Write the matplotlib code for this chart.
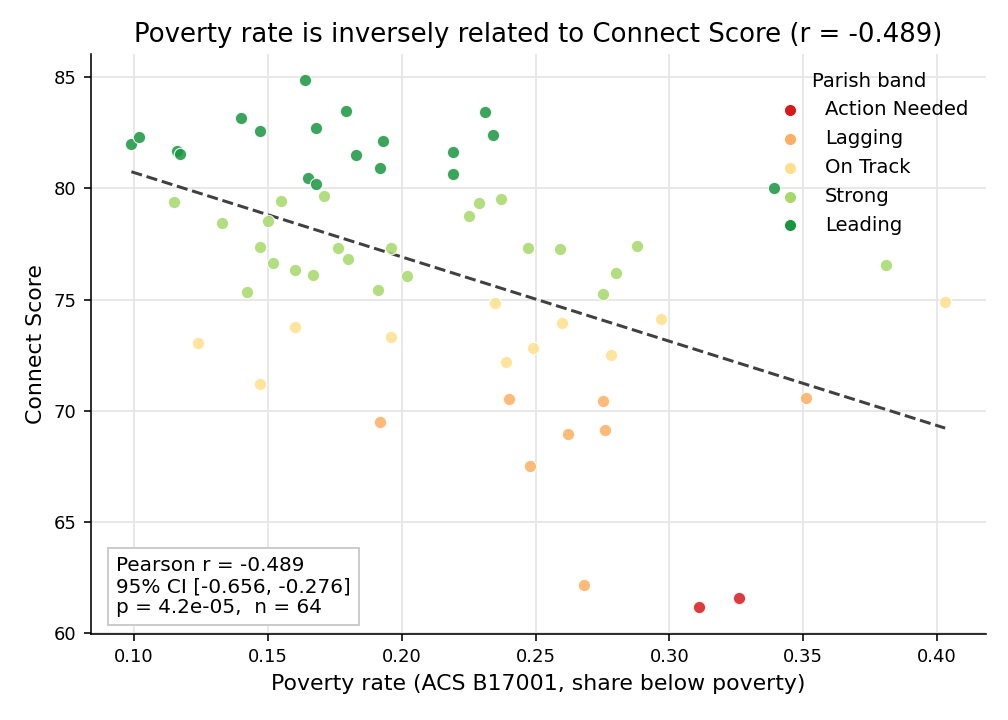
import matplotlib
matplotlib.use('Agg')
import matplotlib.pyplot as plt
import numpy as np

# Poverty rate / Connect Score per parish, grouped by band
leading_x = [0.099, 0.102, 0.116, 0.117, 0.140, 0.147, 0.164, 0.179, 0.168, 0.193,
             0.183, 0.192, 0.165, 0.168, 0.219, 0.219, 0.231, 0.234, 0.339]
leading_y = [82.0, 82.3, 81.68, 81.53, 83.15, 82.58, 84.85, 83.49, 82.70, 82.14,
             81.48, 80.89, 80.44, 80.21, 81.61, 80.66, 83.43, 82.38, 80.02]

strong_x = [0.115, 0.133, 0.150, 0.155, 0.171, 0.147, 0.152, 0.160, 0.167, 0.176,
            0.180, 0.142, 0.191, 0.196, 0.202, 0.225, 0.229, 0.237, 0.247, 0.259,
            0.288, 0.280, 0.275, 0.381]
strong_y = [79.37, 78.44, 78.55, 79.42, 79.64, 77.38, 76.62, 76.31, 76.11, 77.32,
            76.81, 75.32, 75.45, 77.31, 76.04, 78.76, 79.32, 79.52, 77.33, 77.29,
            77.41, 76.19, 75.24, 76.53]

ontrack_x = [0.124, 0.160, 0.147, 0.196, 0.235, 0.260, 0.249, 0.239, 0.278, 0.297, 0.403]
ontrack_y = [73.03, 73.77, 71.21, 73.31, 74.85, 73.95, 72.83, 72.18, 72.49, 74.11, 74.87]

lagging_x = [0.192, 0.240, 0.275, 0.262, 0.276, 0.248, 0.351, 0.268]
lagging_y = [69.49, 70.51, 70.45, 68.94, 69.15, 67.50, 70.56, 62.17]

action_x = [0.311, 0.326]
action_y = [61.17, 61.59]

bands = ['Action Needed', 'Lagging', 'On Track', 'Strong', 'Leading']
band_colors = ['#d7191c', '#fdae61', '#fee08b', '#a6d96a', '#1a9641']

stats_r = -0.489
stats_ci = (-0.656, -0.276)
stats_p = '4.2e-05'
stats_n = 64

xs = [action_x, lagging_x, ontrack_x, strong_x, leading_x]
ys = [action_y, lagging_y, ontrack_y, strong_y, leading_y]

fig, ax = plt.subplots(figsize=(7, 5), dpi=144)
fig.subplots_adjust(left=0.090, right=0.978, bottom=0.12, top=0.925)

ax.grid(True, color='#e6e6e6', linewidth=0.9, zorder=0)
ax.set_axisbelow(True)

for name, col, x, y in zip(bands, band_colors, xs, ys):
    ax.scatter(x, y, s=38, color=col, alpha=0.85, edgecolor='white',
               linewidth=0.6, label=name, zorder=3)

# least squares fit line
all_x = np.concatenate([np.array(v) for v in xs])
all_y = np.concatenate([np.array(v) for v in ys])
slope, icpt = np.polyfit(all_x, all_y, 1)
line_x = np.array([all_x.min(), all_x.max()])
ax.plot(line_x, slope * line_x + icpt, '--', color='#404040', linewidth=1.5, zorder=2)

ax.set_title('Poverty rate is inversely related to Connect Score (r = %.3f)' % stats_r, fontsize=13)
ax.set_xlabel('Poverty rate (ACS B17001, share below poverty)', fontsize=11)
ax.set_ylabel('Connect Score', fontsize=11)
ax.tick_params(labelsize=9)
ax.set_xticks([0.10, 0.15, 0.20, 0.25, 0.30, 0.35, 0.40])
ax.set_yticks([60, 65, 70, 75, 80, 85])

for s in ['top', 'right']:
    ax.spines[s].set_visible(False)

stats_txt = 'Pearson r = %.3f\n95%% CI [%.3f, %.3f]\np = %s,  n = %d' % (
    stats_r, stats_ci[0], stats_ci[1], stats_p, stats_n)
ax.text(0.028, 0.028, stats_txt, transform=ax.transAxes, fontsize=10,
        va='bottom', ha='left', linespacing=1.15,
        bbox=dict(boxstyle='square,pad=0.4', fc='white', ec='#cccccc'))

leg = ax.legend(title='Parish band', frameon=False, loc='upper right', fontsize=9.8,
                title_fontsize=9.8)
for h in leg.legend_handles:
    h.set_alpha(1)

fig.savefig('out.png')
